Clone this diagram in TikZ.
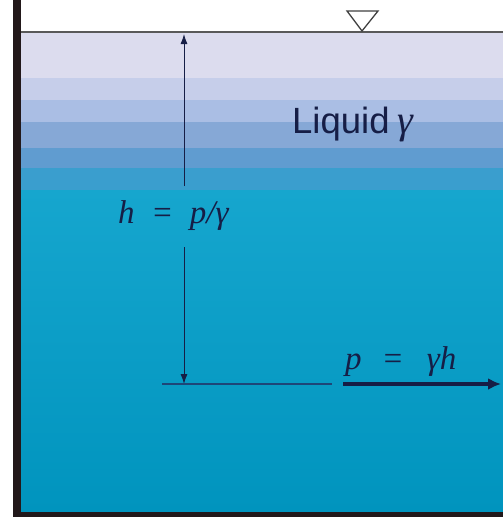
\documentclass[tikz,border=0pt]{standalone}
\usepackage{fontspec}
\newfontfamily\liqsans{Liberation Sans}
\newfontfamily\eqserif{Liberation Serif}
\usetikzlibrary{arrows.meta}
\definecolor{bandA}{RGB}{220,220,238}
\definecolor{bandB}{RGB}{198,206,234}
\definecolor{bandC}{RGB}{170,190,228}
\definecolor{bandD}{RGB}{134,168,214}
\definecolor{bandE}{RGB}{96,156,208}
\definecolor{bandF}{RGB}{58,158,206}
\definecolor{tealtop}{RGB}{22,166,206}
\definecolor{tealbot}{RGB}{0,148,190}
\definecolor{wallc}{RGB}{34,24,26}
\definecolor{ink}{RGB}{22,30,70}
\definecolor{refl}{RGB}{30,70,120}
\tikzset{
  thinarrow/.style={draw=ink, line width=0.9pt, -{Latex[length=10pt,width=7pt]}},
  bigarrow/.style={draw=ink, line width=3.2pt, -{Latex[length=13pt,width=12pt]}},
  mathlabel/.style={text=ink, inner sep=0pt, font=\eqserif\itshape\fontsize{33}{36}\selectfont},
}
\begin{document}
\begin{tikzpicture}[x=1pt,y=-1pt]
\useasboundingbox (0,0) rectangle (503,517);
\fill[white] (0,0) rectangle (503,517);
% liquid bands
\fill[bandA] (20,32) rectangle (503,78);
\fill[bandB] (20,78) rectangle (503,100);
\fill[bandC] (20,100) rectangle (503,122);
\fill[bandD] (20,122) rectangle (503,148);
\fill[bandE] (20,148) rectangle (503,168);
\fill[bandF] (20,168) rectangle (503,190);
\shade[top color=tealtop, bottom color=tealbot] (20,190) rectangle (503,513);
% wall and bottom
\fill[wallc] (13,0) rectangle (21,517);
\fill[wallc] (13,512) rectangle (503,517);
% free surface
\draw[draw=black!65, line width=1.8pt] (21,32) -- (503,32);
\draw[draw=black!75, line width=1.3pt, line join=miter] (347,11) -- (378,11) -- (362,31) -- cycle;
% labels
\node[anchor=base west, text=ink, inner sep=0pt, font=\liqsans\fontsize{36.5}{40}\selectfont] (liq) at (292,133) {Liquid\hspace{0.22em}{\eqserif\itshape\fontsize{40}{42}\selectfont γ}};
\node[mathlabel, anchor=base west] (hlab) at (118,223) {h\hspace{0.5em}=\hspace{0.5em}p/γ};
\node[mathlabel, anchor=base west] (plab) at (345,369) {p\hspace{0.6em}=\hspace{0.7em}γh};
% arrows
\coordinate (surf) at (184,34);
\coordinate (upstart) at (184,186);
\coordinate (downstart) at (184,247);
\coordinate (downend) at (184,384);
\coordinate (r1) at (162,384);
\coordinate (r2) at (332,384);
\coordinate (p1) at (343,384);
\coordinate (p2) at (501,384);
\draw[thinarrow] (upstart) -- (surf);
\draw[thinarrow] (downstart) -- (downend);
\draw[draw=refl, line width=1.4pt] (r1) -- (r2);
\draw[bigarrow] (p1) -- (p2);
\end{tikzpicture}
\end{document}
